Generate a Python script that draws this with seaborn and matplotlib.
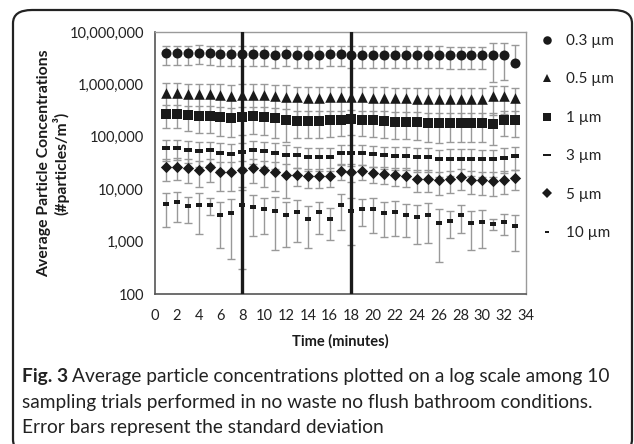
import numpy as np
import pandas as pd
import matplotlib
matplotlib.use('Agg')
import matplotlib.pyplot as plt
import seaborn as sns
from matplotlib.lines import Line2D
from matplotlib.patches import FancyBboxPatch

# time points (minutes)
minutes = list(range(1, 34))

# mean concentrations (#particles/m3)
conc_03 = [3.9e6, 3.9e6, 3.9e6, 4.0e6, 3.9e6, 3.8e6, 3.8e6, 3.8e6, 3.8e6, 3.8e6, 3.7e6,
           3.8e6, 3.7e6, 3.7e6, 3.7e6, 3.8e6, 3.8e6, 3.7e6, 3.7e6, 3.7e6, 3.7e6, 3.7e6,
           3.7e6, 3.7e6, 3.7e6, 3.7e6, 3.6e6, 3.6e6, 3.6e6, 3.6e6, 3.6e6, 3.7e6, 2.6e6]
sd_03 = [1.6e6] * 30 + [2.5e6, 2.5e6, 3.0e6]

conc_05 = [6.9e5, 6.8e5, 6.6e5, 6.5e5, 6.5e5, 6.2e5, 6.1e5, 6.3e5, 6.3e5, 6.2e5, 6.0e5,
           5.8e5, 5.7e5, 5.6e5, 5.6e5, 5.7e5, 5.8e5, 5.8e5, 5.7e5, 5.6e5, 5.5e5, 5.4e5,
           5.4e5, 5.3e5, 5.3e5, 5.2e5, 5.2e5, 5.2e5, 5.2e5, 5.2e5, 5.9e5, 6.0e5, 5.4e5]
sd_05 = [3.8e5] * 12 + [3.3e5] * 21

conc_1 = [2.75e5, 2.75e5, 2.6e5, 2.5e5, 2.5e5, 2.35e5, 2.3e5, 2.4e5, 2.45e5, 2.4e5, 2.25e5,
          2.1e5, 2.0e5, 2.0e5, 2.0e5, 2.05e5, 2.1e5, 2.15e5, 2.1e5, 2.05e5, 2.0e5, 1.95e5,
          1.95e5, 1.9e5, 1.85e5, 1.8e5, 1.85e5, 1.85e5, 1.85e5, 1.85e5, 1.75e5, 2.1e5, 2.05e5]
sd_1 = [1.3e5] * 12 + [1.05e5] * 21

conc_3 = [6.1e4, 6.2e4, 5.7e4, 5.3e4, 5.5e4, 4.9e4, 4.8e4, 5.1e4, 5.6e4, 5.3e4, 5.0e4,
          4.5e4, 4.5e4, 4.2e4, 4.2e4, 4.2e4, 5.0e4, 5.0e4, 4.9e4, 4.6e4, 4.4e4, 4.3e4,
          4.3e4, 4.1e4, 4.1e4, 3.7e4, 3.8e4, 3.8e4, 3.8e4, 3.7e4, 3.7e4, 4.0e4, 4.3e4]
sd_3 = [2.6e4] * 12 + [2.0e4] * 21

conc_5 = [2.65e4, 2.7e4, 2.5e4, 2.3e4, 2.6e4, 2.13e4, 2.13e4, 2.3e4, 2.5e4, 2.28e4, 2.13e4,
          1.87e4, 1.87e4, 1.75e4, 1.75e4, 1.8e4, 2.2e4, 2.1e4, 2.2e4, 2.0e4, 1.93e4, 1.87e4,
          1.8e4, 1.6e4, 1.6e4, 1.47e4, 1.55e4, 1.68e4, 1.5e4, 1.47e4, 1.45e4, 1.5e4, 1.67e4]
sd_5 = [1.2e4] * 12 + [0.7e4] * 21

conc_10 = [5.2e3, 5.6e3, 4.7e3, 4.9e3, 5.0e3, 3.26e3, 3.46e3, 4.9e3, 4.5e3, 4.1e3, 3.9e3,
           3.2e3, 3.6e3, 2.75e3, 3.6e3, 2.75e3, 4.9e3, 3.85e3, 4.2e3, 4.15e3, 3.5e3, 3.6e3,
           3.2e3, 2.9e3, 3.25e3, 2.3e3, 2.5e3, 3.2e3, 2.3e3, 2.35e3, 2.2e3, 2.35e3, 1.95e3]
sd_10 = [3.3e3, 3.2e3, 2.4e3, 3.5e3, 1.8e3, 2.5e3, 3.0e3, 4.6e3, 3.2e3, 2.7e3, 3.2e3,
         2.4e3, 2.6e3, 2.0e3, 2.2e3, 1.7e3, 3.2e3, 3.0e3, 2.2e3, 2.7e3, 2.3e3, 2.3e3,
         1.95e3, 2.0e3, 2.3e3, 1.9e3, 1.35e3, 1.75e3, 1.6e3, 1.6e3, 0.55e3, 1.0e3, 1.3e3]

size_labels = ['0.3 µm', '0.5 µm', '1 µm', '3 µm', '5 µm', '10 µm']
event_minutes = [8, 18]
y_ticks = [100, 1000, 10000, 100000, 1000000, 10000000]
x_ticks = list(range(0, 35, 2))

dash_big = [(-1, -0.38), (1, -0.38), (1, 0.38), (-1, 0.38)]
dash_small = [(-1, -0.65), (1, -0.65), (1, 0.65), (-1, 0.65)]
markers = ['o', '^', 's', dash_big, 'D', dash_small]
msizes = [52, 58, 58, 36, 33, 13]

means = [conc_03, conc_05, conc_1, conc_3, conc_5, conc_10]
sds = [sd_03, sd_05, sd_1, sd_3, sd_5, sd_10]

rows = []
for lab, m, s in zip(size_labels, means, sds):
    for t, v, e in zip(minutes, m, s):
        rows.append({'minute': t, 'conc': v, 'sd': e, 'size': lab})
df = pd.DataFrame(rows)

sns.set_style('white')
plt.rcParams['font.family'] = ['Lato', 'DejaVu Sans']

fig = plt.figure(figsize=(6.34, 4.44), dpi=100)
ax = fig.add_axes([155 / 634, 1 - 294 / 444, 371 / 634, 262 / 444])

# rounded frame around the whole figure
fig.patches.append(FancyBboxPatch((13 / 634, -0.02), 619 / 634, 1 - 10 / 444 + 0.02,
                                  boxstyle='round,pad=0,rounding_size=0.03',
                                  transform=fig.transFigure, fill=False,
                                  edgecolor='#222222', linewidth=1.6))

for i, lab in enumerate(size_labels):
    d = df[df['size'] == lab]
    mean = d['conc'].to_numpy()
    sd = d['sd'].to_numpy()
    lower = np.where(sd < mean, sd, 0)
    ax.errorbar(d['minute'], mean, yerr=[lower, sd], fmt='none', ecolor='#999999',
                elinewidth=1.0, capsize=3, capthick=1.0, zorder=2)
for i, lab in enumerate(size_labels):
    d = df[df['size'] == lab]
    sns.scatterplot(data=d, x='minute', y='conc', marker=markers[i], s=msizes[i],
                    color='#1a1a1a', edgecolor='#1a1a1a', linewidth=0, ax=ax, zorder=3,
                    legend=False)

for xm in event_minutes:
    ax.axvline(xm, color='#1a1a1a', linewidth=2.4, zorder=4)

ax.set_yscale('log')
ax.set_ylim(100, 1e7)
ax.set_xlim(0, 34)
ax.set_yticks(y_ticks)
ax.set_yticklabels([f'{v:,}' for v in y_ticks])
ax.yaxis.set_minor_locator(matplotlib.ticker.NullLocator())
ax.set_xticks(x_ticks)
ax.tick_params(axis='both', which='major', direction='out', length=5, width=1,
               color='#444444', labelsize=10.5, labelcolor='#222222', pad=3)
ax.tick_params(axis='x', pad=6)
for side in ['left', 'bottom']:
    ax.spines[side].set_color('#555555')
    ax.spines[side].set_linewidth(1.2)
for side in ['top', 'right']:
    ax.spines[side].set_color('#9a9a9a')
    ax.spines[side].set_linewidth(1.0)

ax.set_xlabel('Time (minutes)', fontsize=10.5, fontweight='bold', labelpad=8, color='#1a1a1a')
ax.set_ylabel('Average Particle Concentrations\n(#particles/m³)', fontsize=11.3,
              fontweight='bold', labelpad=0, color='#1a1a1a', linespacing=1.1)

handles = [Line2D([], [], linestyle='none', marker=markers[i], color='#1a1a1a',
                  markersize=np.sqrt(msizes[i]) * 0.85, markeredgewidth=0)
           for i in range(len(size_labels))]
ax.legend(handles, size_labels, loc='upper left', bbox_to_anchor=(1.0, 1.045),
          frameon=False, fontsize=11, labelspacing=1.6, handlelength=1.0,
          handletextpad=0.75, labelcolor='#222222')

cap_size = 13.8
cap_color = '#222222'
fig.canvas.draw()
r = fig.canvas.get_renderer()
t0 = fig.text(22 / 634, 1 - 376 / 444, 'Fig. 3', fontsize=cap_size, fontweight='bold',
              va='center', ha='left', color=cap_color)
w = t0.get_window_extent(renderer=r).width
fig.text((22 + w + 4) / 634, 1 - 376 / 444,
         'Average particle concentrations plotted on a log scale among 10',
         fontsize=cap_size, va='center', ha='left', color=cap_color)
fig.text(22 / 634, 1 - 402 / 444,
         'sampling trials performed in no waste no flush bathroom conditions.',
         fontsize=cap_size, va='center', ha='left', color=cap_color)
fig.text(22 / 634, 1 - 427 / 444, 'Error bars represent the standard deviation',
         fontsize=cap_size, va='center', ha='left', color=cap_color)

fig.savefig('out.png', dpi=100)
